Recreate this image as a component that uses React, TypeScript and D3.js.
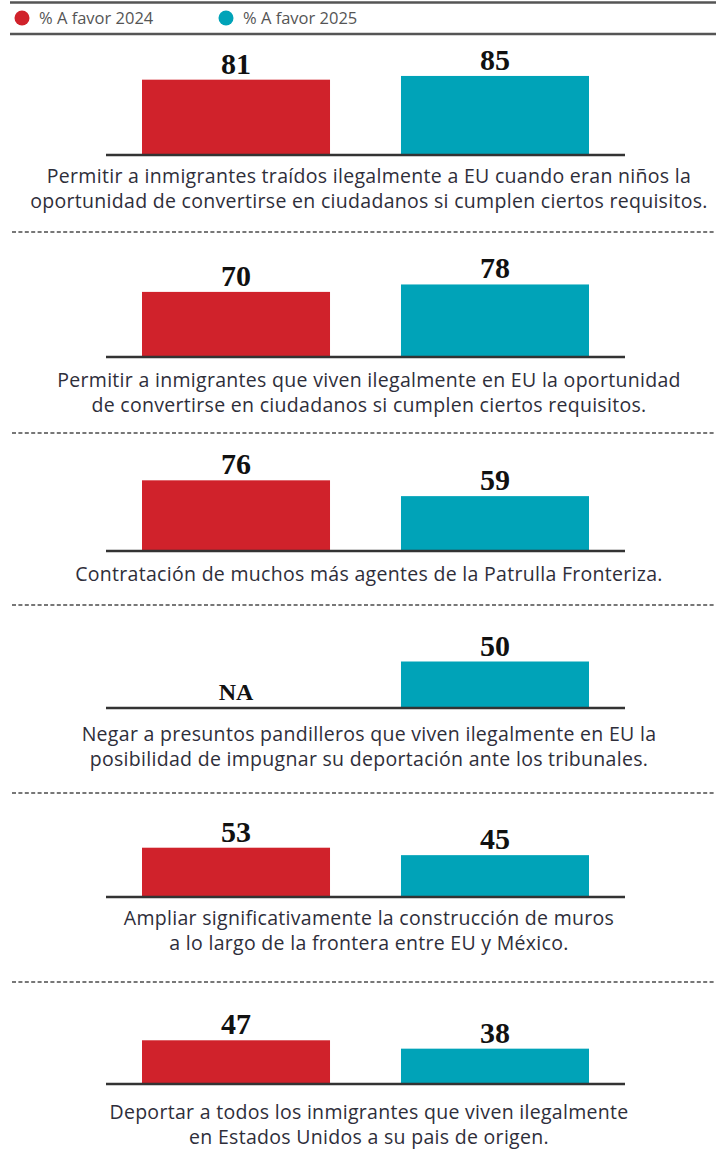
import React from "react";
import * as d3 from "d3";

// ---- data ----
const seriesNames = ["% A favor 2024", "% A favor 2025"];
const seriesColors = ["#d0222b", "#00a3b8"];
const values2024: (number | null)[] = [81, 70, 76, null, 53, 47];
const values2025: (number | null)[] = [85, 78, 59, 50, 45, 38];
const questionLines: string[][] = [
  [
    "Permitir a inmigrantes traídos ilegalmente a EU cuando eran niños la",
    "oportunidad de convertirse en ciudadanos si cumplen ciertos requisitos.",
  ],
  [
    "Permitir a inmigrantes que viven ilegalmente en EU la oportunidad",
    "de convertirse en ciudadanos si cumplen ciertos requisitos.",
  ],
  ["Contratación de muchos más agentes de la Patrulla Fronteriza."],
  [
    "Negar a presuntos pandilleros que viven ilegalmente en EU la",
    "posibilidad de impugnar su deportación ante los tribunales.",
  ],
  [
    "Ampliar significativamente la construcción de muros",
    "a lo largo de la frontera entre EU y México.",
  ],
  [
    "Deportar a todos los inmigrantes que viven ilegalmente",
    "en Estados Unidos a su pais de origen.",
  ],
];
const naLabel = "NA";

// ---- layout ----
const W = 716;
const H = 1173;
const panelBaselines = [155, 357, 551, 708, 897, 1084];
const dividerYs = [232, 433, 605, 793, 982];
const textOffsets = [28, 30, 30, 33, 28, 35];
const lineGap = 25;

const x = d3
  .scaleBand<string>()
  .domain(["2024", "2025"])
  .range([106, 625])
  .paddingInner(0.274)
  .paddingOuter(0.139);
const h = d3.scaleLinear().domain([0, 100]).range([0, 93]);

const textFont = "'Open Sans', 'Noto Sans', sans-serif";
const numFont = "'Liberation Serif', 'DejaVu Serif', serif";

export default function App() {
  return (
    <svg
      width={W}
      height={H}
      style={{ position: "absolute", left: 0, top: 0, background: "#fff" }}
    >
      {/* legend */}
      <line x1={10} x2={W} y1={2.5} y2={2.5} stroke="#555" strokeWidth={2.5} />
      <line x1={10} x2={W} y1={34} y2={34} stroke="#555" strokeWidth={2.5} />
      {seriesNames.map((name, i) => (
        <g key={name} transform={`translate(${i === 0 ? 22 : 226},18)`}>
          <circle r={7.5} fill={seriesColors[i]} />
          <text
            x={17}
            y={5.5}
            fontFamily={textFont}
            fontSize={16.5}
            fill="#555"
          >
            {name}
          </text>
        </g>
      ))}

      {/* dividers */}
      {dividerYs.map((y, i) => (
        <line
          key={i}
          x1={12}
          x2={W}
          y1={y}
          y2={y}
          stroke="#777"
          strokeWidth={2}
          strokeDasharray="4 2.4"
        />
      ))}

      {/* panels */}
      {questionLines.map((lines, i) => {
        const base = panelBaselines[i];
        const vals = [values2024[i], values2025[i]];
        return (
          <g key={i}>
            {vals.map((v, j) => {
              const key = j === 0 ? "2024" : "2025";
              const bx = x(key)!;
              const bw = x.bandwidth();
              if (v == null) {
                return (
                  <text
                    key={key}
                    x={bx + bw / 2}
                    y={base - 8}
                    textAnchor="middle"
                    fontFamily={numFont}
                    fontWeight="bold"
                    fontSize={24}
                    fill="#111"
                  >
                    {naLabel}
                  </text>
                );
              }
              const bh = h(v);
              return (
                <g key={key}>
                  <rect
                    x={bx}
                    y={base - bh}
                    width={bw}
                    height={bh}
                    fill={seriesColors[j]}
                  />
                  <text
                    x={bx + bw / 2}
                    y={base - bh - 6}
                    textAnchor="middle"
                    fontFamily={numFont}
                    fontWeight="bold"
                    fontSize={30}
                    fill="#111"
                  >
                    {v}
                  </text>
                </g>
              );
            })}
            <line
              x1={x.range()[0]}
              x2={x.range()[1]}
              y1={base}
              y2={base}
              stroke="#333"
              strokeWidth={2.5}
            />
            {lines.map((ln, k) => (
              <text
                key={k}
                x={369}
                y={base + textOffsets[i] + k * lineGap}
                textAnchor="middle"
                fontFamily={textFont}
                fontSize={19.5}
                fontWeight={500}
                letterSpacing={0.3}
                fill="#2e2e3a"
              >
                {ln}
              </text>
            ))}
          </g>
        );
      })}
    </svg>
  );
}
